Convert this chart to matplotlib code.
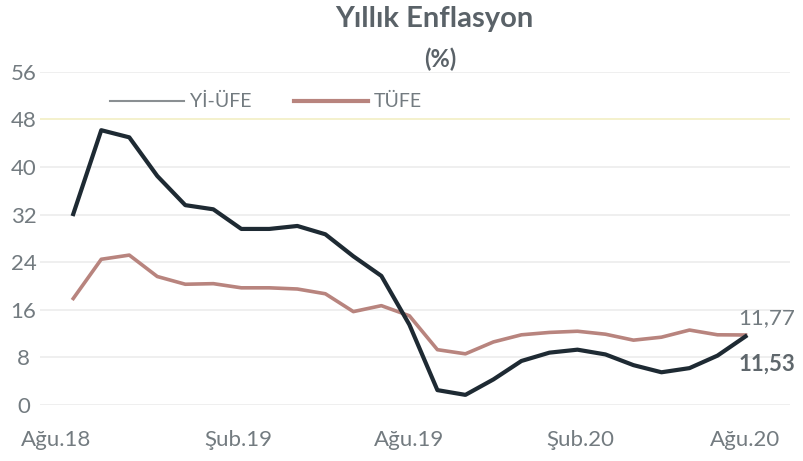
import matplotlib.pyplot as plt
from matplotlib.lines import Line2D

months = ["Ağu.18", "Eyl.18", "Eki.18", "Kas.18", "Ara.18", "Oca.19", "Şub.19",
          "Mar.19", "Nis.19", "May.19", "Haz.19", "Tem.19", "Ağu.19", "Eyl.19",
          "Eki.19", "Kas.19", "Ara.19", "Oca.20", "Şub.20", "Mar.20", "Nis.20",
          "May.20", "Haz.20", "Tem.20", "Ağu.20"]
yi_ufe = [32.1, 46.2, 45.0, 38.5, 33.6, 32.9, 29.6, 29.6, 30.1, 28.7, 25.0, 21.7,
          13.5, 2.5, 1.7, 4.3, 7.4, 8.8, 9.3, 8.5, 6.7, 5.5, 6.2, 8.3, 11.53]
tufe = [17.9, 24.5, 25.2, 21.6, 20.3, 20.4, 19.7, 19.7, 19.5, 18.7, 15.7, 16.7,
        15.0, 9.3, 8.6, 10.6, 11.8, 12.2, 12.4, 11.9, 10.9, 11.4, 12.6, 11.8, 11.77]
tick_labels = ["Ağu.18", "Şub.19", "Ağu.19", "Şub.20", "Ağu.20"]
yticks = [0, 8, 16, 24, 32, 40, 48, 56]

plt.rcParams['font.family'] = ['Lato', 'DejaVu Sans']
txt = "#737b80"
dark = "#1e2a33"
rose = "#b8847e"

fig = plt.figure(figsize=(8.04, 4.61), dpi=100)
ax = fig.add_axes([0.05, 0.1215, 0.933, 0.7225])
x = list(range(len(months)))

for y in yticks:
    c = "#f2efc4" if y == 48 else "#ececec"
    ax.axhline(y, color=c, lw=1.2, zorder=0)

ax.plot(x, tufe, color=rose, lw=2.6, solid_joinstyle="round")
ax.plot(x, yi_ufe, color=dark, lw=3.0, solid_joinstyle="round")

ax.set_xlim(-1.18, 25.6)
ax.set_ylim(0, 56)
ax.set_xticks([-0.6, 5.9, 12.0, 18.1, 24.0])
ax.set_xticklabels(tick_labels)
ax.set_yticks(yticks)
ax.tick_params(length=0, labelsize=16, colors=txt)
ax.tick_params(axis="x", pad=18)
ax.tick_params(axis="y", pad=12)
for lab in ax.get_yticklabels():
    lab.set_horizontalalignment("center")
for s in ax.spines.values():
    s.set_visible(False)

ax.text(24.75, tufe[-1] + 2.9, "11,77", color=txt, fontsize=16, ha="center", va="center")
ax.text(24.75, yi_ufe[-1] - 4.6, "11,53", color="#5f676c", fontsize=16,
        fontweight="bold", ha="center", va="center")

fig.text(0.54, 0.958, "Yıllık Enflasyon", color="#5a6268", fontsize=21,
         fontweight="bold", ha="center", va="center")
fig.text(0.547, 0.872, "(%)", color="#5a6268", fontsize=17,
         fontweight="bold", ha="center", va="center")

handles = [Line2D([], [], color="#8a8f92", lw=1.5),
           Line2D([], [], color=rose, lw=3)]
ax.legend(handles, ["Yİ-ÜFE", "TÜFE"], loc="center left", bbox_to_anchor=(0.07, 0.91),
          ncol=2, frameon=False, fontsize=14, labelcolor=txt, handlelength=3.8,
          handletextpad=0.3, columnspacing=2.2)

fig.savefig("out.png", dpi=100)
